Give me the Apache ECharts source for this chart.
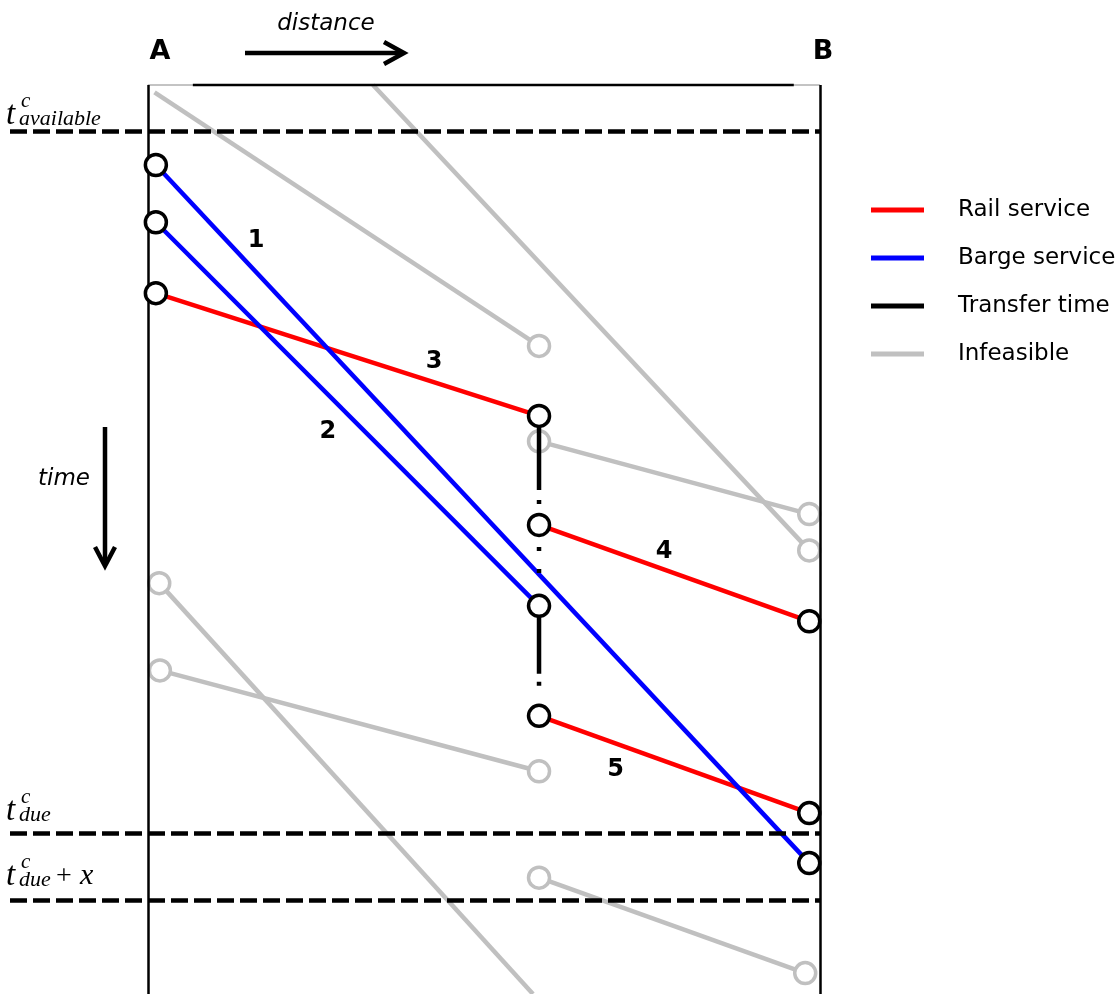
<!DOCTYPE html>
<html>
<head>
<meta charset="utf-8">
<title>Time-distance diagram</title>
<script src="https://cdn.jsdelivr.net/npm/echarts@6/dist/echarts.min.js"></script>
<style>
    html, body { margin: 0; padding: 0; background: #fff; }
    #time_distance { width: 1120px; height: 994px; }
</style>
</head>
<body>
<div id="time_distance"></div>
<script>

// Data (distance 0 = terminal A, 100 = terminal B; time grows downward)
// ------------------------------

var railServices = [
    [[1.2, 22.9], [58.2, 36.4]],
    [[58.2, 48.4], [98.4, 59.0]],
    [[58.2, 69.4], [98.4, 80.1]]
];

var bargeServices = [
    [[1.2, 8.8], [98.4, 85.6]],
    [[1.2, 15.1], [58.2, 57.3]]
];

var transferTimes = [
    [[58.2, 36.4], [58.2, 48.4]],
    [[58.2, 48.4], [58.2, 57.3]],
    [[58.2, 57.3], [58.2, 69.4]]
];

var infeasibleServices = [
    [[1.0, 0.8], [58.2, 28.7]],
    [[33.5, 0], [98.4, 51.2]],
    [[58.2, 39.2], [98.4, 47.2]],
    [[1.7, 54.8], [57.3, 100]],
    [[1.8, 64.4], [58.2, 75.5]],
    [[58.2, 87.2], [97.8, 97.7]]
];

// gray nodes drawn on the infeasible services
var infeasibleNodes = [
    [58.2, 28.7], [98.4, 51.2], [58.2, 39.2], [98.4, 47.2],
    [1.7, 54.8], [1.8, 64.4], [58.2, 75.5], [58.2, 87.2], [97.8, 97.7]
];

var serviceLabels = ['1', '2', '3', '4', '5'];
var serviceLabelPoints = [[16.1, 17.1], [26.8, 38.2], [42.6, 30.4], [76.8, 51.3], [69.6, 75.3]];

var terminals = [0, 100];
var timeWindows = [5.1, 82.3, 89.7];


// Setup module
// ------------------------------

var TimeDistanceDiagram = function() {

    var _diagram = function() {
        if (typeof echarts == 'undefined') {
            console.warn('Warning - echarts.min.js is not loaded.');
            return;
        }

        var element = document.getElementById('time_distance');
        if (!element) return;

        var chart = echarts.init(element);

        var RED = '#ff0000', BLUE = '#0000ff', GRAY = '#c0c0c0', BLACK = '#000000';

        // one line series per segment
        var segmentSeries = function(name, segments, color, z, dashes) {
            return segments.map(function(seg, i) {
                return {
                    name: name,
                    type: 'line',
                    data: seg,
                    symbol: 'none',
                    color: color,
                    z: z,
                    silent: true,
                    lineStyle: {
                        color: color,
                        width: 4.5,
                        type: dashes ? dashes[i] : 'solid',
                        cap: 'butt'
                    }
                };
            });
        };

        // black terminal nodes = endpoints of feasible services
        var feasibleNodes = [];
        railServices.concat(bargeServices).forEach(function(seg) {
            feasibleNodes.push(seg[0], seg[1]);
        });

        var nodeStyle = function(color) {
            return { color: '#fff', borderColor: color, borderWidth: 3.5, opacity: 1 };
        };

        var series = [];
        series = series.concat(segmentSeries('Infeasible', infeasibleServices, GRAY, 1));

        series.push({
            name: 'infeasible nodes',
            type: 'scatter',
            data: infeasibleNodes,
            symbol: 'circle',
            symbolSize: 21,
            z: 2,
            silent: true,
            itemStyle: nodeStyle(GRAY)
        });

        // Frame: terminal lines, top border and time windows
        series.push({
            name: 'frame',
            type: 'line',
            data: [[6.7, 0], [96.1, 0]],
            symbol: 'none',
            clip: false,
            z: 3,
            silent: true,
            lineStyle: { color: BLACK, width: 2.5 },
            markLine: {
                silent: true,
                symbol: ['none', 'none'],
                label: { show: false },
                animation: false,
                data: terminals.map(function(d) {
                    return { xAxis: d, lineStyle: { type: 'solid', color: BLACK, width: 2.5 } };
                }).concat(timeWindows.map(function(t) {
                    return { yAxis: t, lineStyle: { type: [17, 6], color: BLACK, width: 4.5, cap: 'butt' } };
                }))
            }
        });
        series.push({
            name: 'frame top',
            type: 'line',
            data: [[0, 0], [100, 0]],
            symbol: 'none',
            clip: false,
            z: 2,
            silent: true,
            lineStyle: { color: '#888', width: 1 }
        });

        series = series.concat(segmentSeries('Rail service', railServices, RED, 4));
        series = series.concat(segmentSeries('Barge service', bargeServices, BLUE, 4));
        series = series.concat(segmentSeries('Transfer time', transferTimes, BLACK, 5,
            [[74, 10, 4, 40], [2, 20, 4, 18, 4, 40], [68, 8, 4, 40]]));

        series.push({
            name: 'nodes',
            type: 'scatter',
            data: feasibleNodes,
            symbol: 'circle',
            symbolSize: 21,
            z: 6,
            silent: true,
            itemStyle: nodeStyle(BLACK)
        });

        // Text helper for graphic annotations
        var txt = function(x, y, text, size, opts) {
            opts = opts || {};
            return {
                type: 'text', x: x, y: y, z: 100,
                style: {
                    text: text,
                    fontSize: size,
                    fontFamily: opts.family || 'DejaVu Sans',
                    fontStyle: opts.italic ? 'italic' : 'normal',
                    fontWeight: opts.bold ? 'bold' : 'normal',
                    fill: BLACK,
                    align: opts.align || 'left',
                    verticalAlign: 'middle'
                }
            };
        };

        // Math style labels for the time windows
        var MATH = '"Liberation Serif", "DejaVu Serif", serif';
        var mathLabel = function(y, sub, extra) {
            var items = [
                txt(6, y, 't', 33, { family: MATH, italic: true }),
                txt(21, y - 14, 'c', 21, { family: MATH, italic: true }),
                txt(19, y + 4, sub, 22, { family: MATH, italic: true })
            ];
            if (extra) {
                items.push(txt(56, y + 1, '+', 28, { family: MATH }));
                items.push(txt(80, y, 'x', 30, { family: MATH, italic: true }));
            }
            return items;
        };

        var graphic = []
            .concat(mathLabel(115, 'available'))
            .concat(mathLabel(811, 'due'))
            .concat(mathLabel(876, 'due', true))
            .concat([
                txt(160, 52, 'A', 27, { bold: true, align: 'center' }),
                txt(823, 52, 'B', 27, { bold: true, align: 'center' }),
                txt(326, 24, 'distance', 23, { italic: true, align: 'center' }),
                txt(64, 479, 'time', 23, { italic: true, align: 'center' }),
                { type: 'line', shape: { x1: 245, y1: 53, x2: 403, y2: 53 }, style: { stroke: BLACK, lineWidth: 4.5 } },
                { type: 'polyline', shape: { points: [[384, 42], [404, 53], [384, 64]] }, style: { stroke: BLACK, lineWidth: 4.5, fill: null } },
                { type: 'line', shape: { x1: 105, y1: 427, x2: 105, y2: 565 }, style: { stroke: BLACK, lineWidth: 4.5 } },
                { type: 'polyline', shape: { points: [[95, 547], [105, 566], [115, 547]] }, style: { stroke: BLACK, lineWidth: 4.5, fill: null } }
            ]);

        chart.setOption({
            animation: false,
            backgroundColor: '#fff',
            textStyle: { fontFamily: 'DejaVu Sans' },

            grid: { left: 10, right: 300, top: 85, bottom: 0 },

            legend: {
                data: ['Rail service', 'Barge service', 'Transfer time', 'Infeasible'],
                orient: 'vertical',
                left: 866,
                top: 191,
                icon: 'rect',
                itemWidth: 53,
                itemHeight: 5,
                itemGap: 20,
                selectedMode: false,
                textStyle: {
                    color: BLACK,
                    fontFamily: 'DejaVu Sans',
                    fontSize: 23,
                    lineHeight: 28,
                    padding: [0, 0, 0, 29]
                }
            },

            xAxis: { type: 'value', min: -20.5, max: 100, show: false },
            yAxis: { type: 'value', min: 0, max: 100, inverse: true, show: false },

            graphic: graphic,
            series: series
        });

        // Service numbers placed through the chart's own scales
        var numberLabels = serviceLabelPoints.map(function(p, i) {
            var px = chart.convertToPixel({ gridIndex: 0 }, p);
            return txt(px[0], px[1], serviceLabels[i], 24, { bold: true, align: 'center' });
        });
        chart.setOption({ graphic: graphic.concat(numberLabels) });

        window.addEventListener('resize', function() {
            chart.resize();
        });
    };

    return {
        init: function() {
            _diagram();
        }
    };
}();


// Initialize module
// ------------------------------

document.addEventListener('DOMContentLoaded', function() {
    TimeDistanceDiagram.init();
});
</script>
</body>
</html>
